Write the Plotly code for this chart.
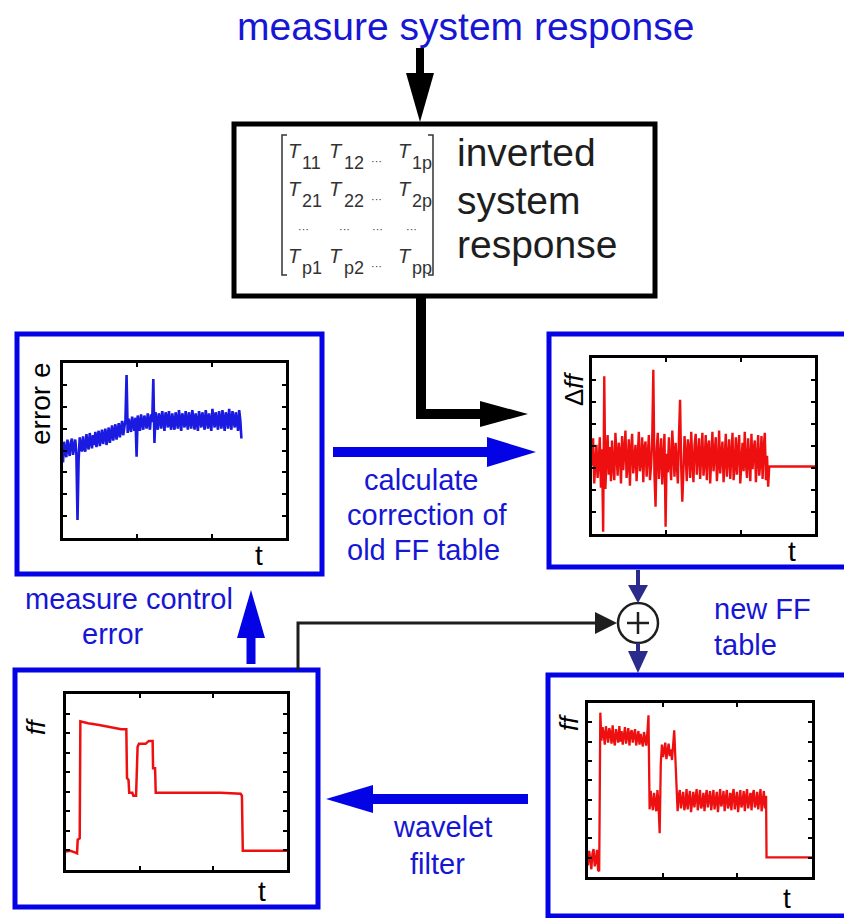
import plotly.graph_objects as go

W, H = 844, 918
FONT = "Liberation Sans, Arial, sans-serif"

# ---------------- signals (time axis 0..100, sampled every STEP) ----------------
STEP = 0.5

# measured control error e(t)
ERROR_E = [
    3.45, 4.40, 3.90, 3.70, 4.50, 4.05, 3.75, 4.35, 4.55, 3.80,
    4.20, 4.50, 3.85, 0.82, 3.55, 4.60, 4.20, 3.95, 4.65, 4.10,
    3.95, 4.75, 4.30, 4.05, 4.80, 4.45, 4.10, 4.70, 4.25, 4.85,
    4.15, 4.60, 4.90, 4.20, 4.55, 4.95, 4.30, 4.75, 5.00, 4.25,
    4.65, 5.05, 4.35, 4.80, 5.15, 4.45, 4.90, 5.20, 4.50, 5.00,
    5.25, 4.60, 4.95, 5.35, 4.70, 5.10, 5.40, 7.45, 4.80, 5.45,
    5.05, 4.85, 5.55, 5.20, 4.90, 5.50, 3.72, 5.60, 5.15, 4.90,
    5.65, 5.25, 4.95, 5.60, 5.35, 5.00, 5.70, 5.20, 4.95, 5.65,
    5.30, 7.27, 4.34, 5.75, 5.30, 4.95, 5.70, 5.45, 5.00, 5.80,
    5.35, 4.90, 5.75, 5.50, 5.05, 5.80, 5.25, 4.95, 5.70, 5.40,
    4.95, 5.75, 5.30, 5.00, 5.85, 5.45, 4.90, 5.70, 5.35, 5.05,
    5.80, 5.40, 4.95, 5.75, 5.25, 5.00, 5.85, 5.50, 4.95, 5.70,
    5.30, 4.90, 5.80, 5.45, 5.05, 5.75, 5.35, 4.95, 5.85, 5.40,
    5.00, 5.70, 5.25, 4.90, 5.90, 5.45, 5.05, 5.75, 5.30, 4.95,
    5.80, 5.40, 5.00, 5.85, 5.30, 4.90, 5.75, 5.50, 5.00, 5.90,
    5.35, 4.95, 5.80, 5.45, 5.05, 5.75, 5.25, 4.90, 5.85, 5.40,
    4.55,
]

# correction of the feed-forward table, delta ff(t)
DELTA_FF = [
    3.10, 4.35, 2.30, 3.60, 4.05, 2.55, 3.20, 4.40, 2.10, 3.85,
    0.10, 7.17, 2.05, 3.40, 4.50, 2.70, 3.95, 2.40, 4.25, 3.05,
    2.45, 4.60, 3.30, 2.65, 4.15, 3.75, 2.30, 4.45, 2.90, 3.60,
    4.70, 2.55, 3.15, 4.30, 2.20, 3.80, 4.55, 2.75, 3.50, 4.05,
    2.40, 3.70, 4.65, 2.85, 3.25, 4.40, 2.35, 3.95, 4.20, 2.60,
    3.55, 4.50, 2.45, 3.10, 4.25, 7.47, 2.70, 1.24, 3.85, 4.60,
    2.50, 3.40, 4.35, 2.25, 3.90, 4.55, 0.33, 3.65, 2.80, 4.40,
    3.20, 2.45, 4.70, 3.75, 2.60, 4.15, 3.35, 2.30, 4.50, 6.10,
    3.05, 1.47, 2.90, 4.45, 3.60, 2.40, 4.30, 3.85, 2.55, 4.65,
    3.25, 2.35, 4.05, 4.55, 2.70, 3.45, 4.35, 2.50, 3.80, 4.60,
    2.65, 3.30, 4.50, 2.45, 3.95, 4.25, 2.30, 3.70, 4.65, 2.85,
    3.50, 4.40, 2.40, 3.15, 4.70, 2.75, 3.60, 4.20, 2.35, 3.90,
    4.55, 2.60, 3.35, 4.30, 2.50, 3.85, 4.60, 2.45, 3.10, 4.40,
    2.70, 3.75, 4.50, 2.30, 3.45, 4.15, 2.85, 4.65, 3.25, 2.55,
    4.35, 3.60, 2.40, 4.55, 2.95, 3.80, 4.25, 2.35, 3.70, 4.50,
    2.65, 3.30, 4.45, 2.50, 3.95, 4.60, 2.45, 3.55, 2.15,
]
DELTA_FF_TAIL_T = [79.5, 100.0]
DELTA_FF_TAIL = [3.07, 3.07]

# wavelet-filtered feed-forward table ff(t)
FF_OLD_T = [0, 2, 4, 5, 5.3, 6.2, 6.5, 8, 10, 15, 20, 25, 27.3, 27.6, 28.3,
            28.6, 30, 30.5, 31.7, 32.4, 33, 36, 37.5, 39.2, 39.4, 40.3, 40.6,
            50, 60, 70, 79, 79.6, 80, 100]
FF_OLD = [0.94, 0.98, 0.90, 0.85, 1.55, 1.62, 7.60, 7.55, 7.50, 7.42, 7.30,
          7.20, 7.20, 4.70, 4.60, 3.95, 3.95, 3.80, 3.80, 6.30, 6.45, 6.45,
          6.60, 6.60, 5.20, 5.20, 3.95, 3.95, 3.93, 3.95, 3.90, 3.80, 0.99, 0.99]

# new (unfiltered) feed-forward table ff(t)
FF_NEW = [
    0.60, 1.35, 0.95, 0.40, 1.25, 1.45, 0.55, 0.85, 1.40, 0.35,
    0.30, 8.50, 7.05, 7.75, 7.40, 6.85, 7.80, 7.20, 6.95, 7.70,
    7.45, 6.90, 7.85, 7.10, 6.80, 7.65, 7.35, 6.95, 7.80, 7.00,
    7.55, 6.85, 7.30, 7.75, 6.90, 7.20, 7.70, 6.80, 7.45, 7.60,
    6.95, 7.35, 7.65, 6.80, 7.15, 7.55, 6.85, 7.40, 7.05, 6.75,
    7.50, 7.00, 6.80, 7.45, 8.36, 3.50, 4.45, 3.85, 3.45, 4.35,
    3.90, 3.40, 4.50, 3.70, 2.27, 5.90, 6.85, 6.20, 6.55, 6.95,
    6.10, 6.70, 6.90, 6.25, 6.60, 6.05, 6.85, 7.59, 6.15, 4.55,
    3.40, 4.20, 4.50, 3.55, 3.95, 4.40, 3.45, 3.80, 4.55, 3.50,
    4.05, 4.45, 3.35, 3.90, 4.40, 3.60, 4.15, 4.55, 3.45, 3.85,
    4.50, 3.55, 3.75, 4.35, 3.40, 4.10, 4.50, 3.60, 3.95, 4.45,
    3.45, 4.00, 4.50, 3.50, 3.85, 4.40, 3.35, 4.25, 4.55, 3.65,
    3.90, 4.45, 3.40, 4.05, 4.50, 3.55, 3.80, 4.35, 3.45, 4.20,
    4.55, 3.50, 3.95, 4.40, 3.35, 4.15, 4.50, 3.60, 3.85, 4.45,
    3.40, 4.10, 4.55, 3.55, 3.90, 4.35, 3.45, 4.25, 4.50, 3.60,
    3.85, 4.40, 3.50, 4.05, 4.55, 3.40, 3.95, 4.45, 3.55, 4.20,
]
FF_NEW_TAIL_T = [79.7, 100.0]
FF_NEW_TAIL = [1.01, 1.01]

# ---------------- colours ----------------
BLUE_LINE = "#0303e6"
BLUE_TEXT = "#1616d4"
NAVY = "#2b2b8c"
RED = "#ee1010"
TRACE_BLUE = "#1a1ae0"
DARK = "#1e1e1e"


def X(px):
    return px / W


def Y(py):
    return 1 - py / H


def times(values):
    return [i * STEP for i in range(len(values))]


fig = go.Figure()

# ---------------- the four small plots ----------------
panels = [
    # axis id, plot frame in pixels (left, right, top, bottom), y range
    ("", (63, 286, 363, 538), 8),
    ("2", (592, 815, 358, 534), 8),
    ("3", (66, 287, 694, 870), 9),
    ("4", (588, 812, 703, 877), 9),
]
for ax, (l, r, t, b), ymax in panels:
    common = dict(showline=True, linecolor="black", linewidth=2.5, mirror="ticks",
                  ticks="inside", ticklen=4, tickwidth=2, tickcolor="black",
                  showticklabels=False, showgrid=False, zeroline=False, fixedrange=True)
    fig.update_layout(**{
        f"xaxis{ax}": dict(domain=[X(l), X(r)], range=[0, 100], tick0=0, dtick=100 / 3,
                           anchor=f"y{ax}", **common),
        f"yaxis{ax}": dict(domain=[Y(b), Y(t)], range=[0, ymax], tick0=0, dtick=1,
                           anchor=f"x{ax}", **common),
    })

fig.add_trace(go.Scatter(x=times(ERROR_E), y=ERROR_E, mode="lines",
                         line=dict(color=TRACE_BLUE, width=2.6), xaxis="x", yaxis="y"))
fig.add_trace(go.Scatter(x=times(DELTA_FF) + DELTA_FF_TAIL_T, y=DELTA_FF + DELTA_FF_TAIL,
                         mode="lines", line=dict(color=RED, width=2.4),
                         xaxis="x2", yaxis="y2"))
fig.add_trace(go.Scatter(x=FF_OLD_T, y=FF_OLD, mode="lines",
                         line=dict(color=RED, width=2.5), xaxis="x3", yaxis="y3"))
fig.add_trace(go.Scatter(x=times(FF_NEW) + FF_NEW_TAIL_T, y=FF_NEW + FF_NEW_TAIL,
                         mode="lines", line=dict(color=RED, width=2.3),
                         xaxis="x4", yaxis="y4"))

# ---------------- diagram shapes ----------------
shapes = []


def rect(x0, y0, x1, y1, color, width):
    shapes.append(dict(type="rect", xref="paper", yref="paper",
                       x0=X(x0), x1=X(x1), y0=Y(y1), y1=Y(y0),
                       line=dict(color=color, width=width), fillcolor="rgba(0,0,0,0)"))


def poly(points, color, width, closed=False, fill=None):
    d = "M " + " L ".join(f"{X(a):.5f},{Y(b):.5f}" for a, b in points)
    if closed:
        d += " Z"
    shapes.append(dict(type="path", xref="paper", yref="paper", path=d,
                       line=dict(color=color, width=width),
                       fillcolor=fill if fill else "rgba(0,0,0,0)"))


def head(tip, base_center, half, color):
    (tx, ty), (bx, by) = tip, base_center
    if tx == bx:  # vertical arrow
        pts = [(tx, ty), (bx - half, by), (bx + half, by)]
    else:
        pts = [(tx, ty), (bx, by - half), (bx, by + half)]
    poly(pts, color, 0, closed=True, fill=color)


# panel frames
rect(17, 334, 322, 574, BLUE_LINE, 5)
rect(549, 334, 870, 567, BLUE_LINE, 5)
rect(15, 670, 318, 907, BLUE_LINE, 5)
rect(548, 675, 870, 916, BLUE_LINE, 5)

# matrix box
rect(234, 124, 655, 296, "black", 5)

# arrow: measurement -> matrix box
poly([(420, 48), (420, 76)], "black", 8)
head((420, 122), (420, 73), 14, "black")

# arrow: matrix box -> delta ff plot
poly([(421, 296), (421, 414), (482, 414)], "black", 10)
head((528, 414), (480, 414), 13, "black")

# arrow: error plot -> delta ff plot
poly([(333, 452), (490, 452)], BLUE_LINE, 10)
head((536, 452), (487, 452), 15, BLUE_LINE)

# arrow: filtered table -> error plot
poly([(251, 664), (251, 636)], BLUE_LINE, 9)
head((251, 590), (251, 638), 14, BLUE_LINE)

# arrow: new table -> filtered table
poly([(528, 799), (370, 799)], BLUE_LINE, 10)
head((326, 799), (373, 799), 14, BLUE_LINE)

# old table -> summing junction
poly([(298, 670), (298, 623), (597, 623)], DARK, 3)
head((617, 623), (595, 623), 11, DARK)

# summing junction
shapes.append(dict(type="circle", xref="paper", yref="paper",
                   x0=X(618), x1=X(658), y0=Y(643), y1=Y(603),
                   line=dict(color=DARK, width=2.5), fillcolor="white"))
poly([(627, 623), (649, 623)], DARK, 2.5)
poly([(638, 612), (638, 634)], DARK, 2.5)

# navy arrows into / out of the junction
poly([(638, 570), (638, 588)], NAVY, 4)
head((638, 603), (638, 585), 10, NAVY)
poly([(638, 643), (638, 654)], NAVY, 4)
head((638, 673), (638, 651), 10, NAVY)

# matrix brackets
poly([(287, 135), (282, 135), (282, 275), (287, 275)], "#333333", 1.5)
poly([(428, 135), (433, 135), (433, 275), (428, 275)], "#333333", 1.5)

fig.update_layout(shapes=shapes)

# ---------------- text ----------------
ann = []


def text(s, x, y, size, color, anchor="center", angle=0):
    ann.append(dict(text=s, x=X(x), y=Y(y), xref="paper", yref="paper",
                    xanchor=anchor, yanchor="middle", showarrow=False,
                    textangle=angle, font=dict(family=FONT, size=size, color=color)))


text("measure system response", 465, 26, 39, BLUE_TEXT)
text("inverted", 455, 153, 39, DARK, "left")
text("system", 455, 200, 39, DARK, "left")
text("response", 455, 245, 39, DARK, "left")

# matrix entries
col_T = [295, 336, 405]
col_sub = [300, 342, 410]
rows = [(151, 163, ["11", "12", "1p"]),
        (189, 201, ["21", "22", "2p"]),
        (256, 268, ["p1", "p2", "pp"])]
for yT, ysub, subs in rows:
    for cx, sx, s in zip(col_T, col_sub, subs):
        text("<i>T</i>", cx, yT, 20, "#333333")
        text(s, sx, ysub, 18, "#333333", "left")
    text("···", 376, ysub - 2, 11, "#333333")
for dx in [303, 344, 377, 411]:
    text("···", dx, 229, 11, "#333333")

# blue captions
text("calculate", 421, 480, 29, BLUE_TEXT)
text("correction of", 427, 515, 29, BLUE_TEXT)
text("old FF table", 423, 550, 29, BLUE_TEXT)
text("measure control", 129, 599, 29, BLUE_TEXT)
text("error", 113, 634, 29, BLUE_TEXT)
text("new FF", 712, 609, 29, BLUE_TEXT, "left")
text("table", 712, 645, 29, BLUE_TEXT, "left")
text("wavelet", 443, 827, 29, BLUE_TEXT)
text("filter", 437, 864, 29, BLUE_TEXT)

# axis captions of the small plots
text("error e", 41, 404, 28, "black", angle=-90)
text("Δ<i>ff</i>", 574, 389, 26, "black", angle=-90)
text("<i>ff</i>", 36, 727, 26, "black", angle=-90)
text("<i>ff</i>", 569, 723, 26, "black", angle=-90)
text("t", 259, 555, 28, "black")
text("t", 792, 551, 28, "black")
text("t", 262, 891, 28, "black")
text("t", 787, 898, 28, "black")

fig.update_layout(annotations=ann, width=W, height=H, autosize=False,
                  margin=dict(l=0, r=0, t=0, b=0), showlegend=False,
                  paper_bgcolor="white", plot_bgcolor="rgba(0,0,0,0)")

fig.write_html("out.html")
